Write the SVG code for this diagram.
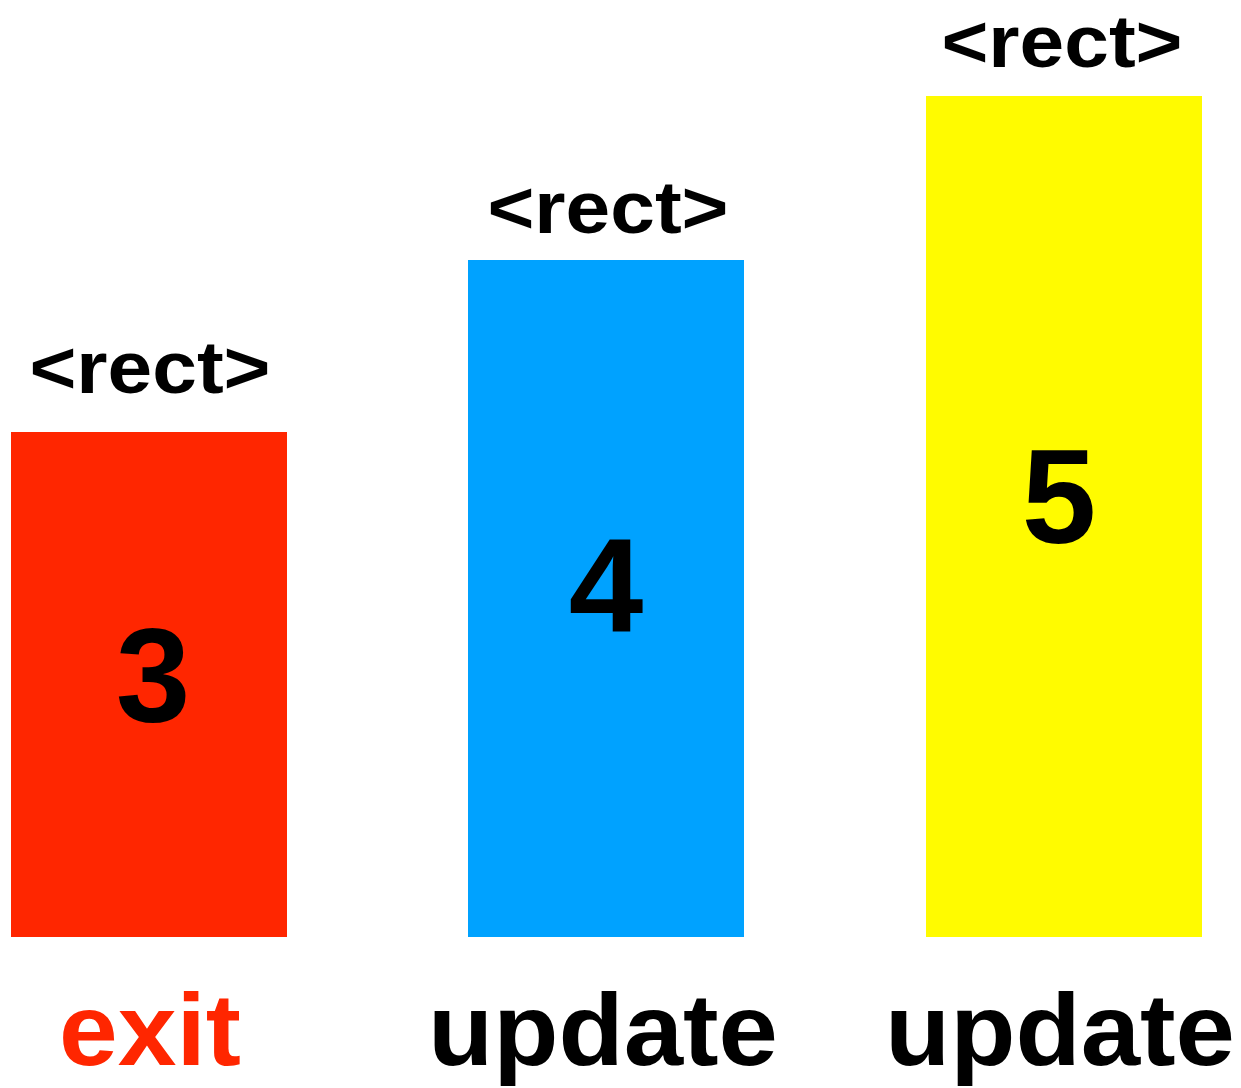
<svg xmlns="http://www.w3.org/2000/svg" width="1241" height="1088" viewBox="0 0 1241 1088">
<style>
.t{font-family:"Liberation Sans",Arial,sans-serif;font-weight:bold;text-anchor:middle;fill:#000}
.tag{font-size:74px}
.num{font-size:134px}
.lbl{font-size:102px}
</style>
<rect width="1241" height="1088" fill="#fff"/>
<g id="bar3">
<rect x="11" y="432" width="276" height="505" fill="#FF2600"/>
<text class="t tag" x="150" y="393" textLength="241" lengthAdjust="spacingAndGlyphs">&lt;rect&gt;</text>
<text class="t num" x="153" y="722">3</text>
<text class="t lbl" x="150" y="1065" style="fill:#FF2600" textLength="182" lengthAdjust="spacingAndGlyphs">exit</text>
</g>
<g id="bar4">
<rect x="468" y="260" width="276" height="677" fill="#00A2FF"/>
<text class="t tag" x="608" y="233" textLength="241" lengthAdjust="spacingAndGlyphs">&lt;rect&gt;</text>
<text class="t num" x="606" y="632">4</text>
<text class="t lbl" x="603" y="1065" textLength="350" lengthAdjust="spacingAndGlyphs">update</text>
</g>
<g id="bar5">
<rect x="926" y="96" width="276" height="841" fill="#FFFB00"/>
<text class="t tag" x="1062" y="67" textLength="241" lengthAdjust="spacingAndGlyphs">&lt;rect&gt;</text>
<text class="t num" x="1059" y="543">5</text>
<text class="t lbl" x="1060" y="1065" textLength="350" lengthAdjust="spacingAndGlyphs">update</text>
</g>
</svg>
